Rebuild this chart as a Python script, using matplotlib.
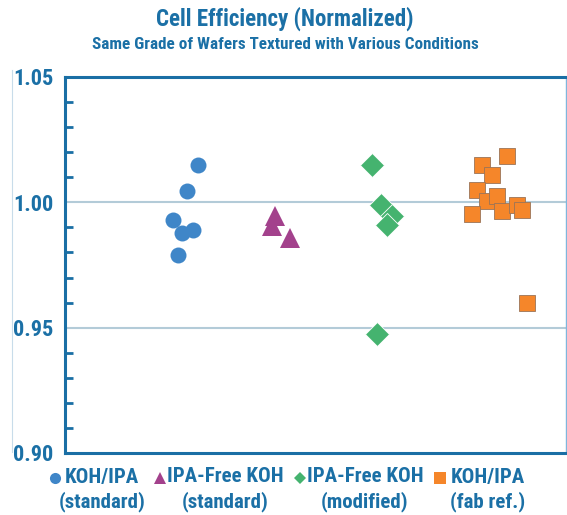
import matplotlib
matplotlib.use("Agg")
import matplotlib.pyplot as plt
from matplotlib.lines import Line2D
from matplotlib.ticker import MultipleLocator, FixedLocator

# ---- data ----
title = "Cell Efficiency (Normalized)"
subtitle = "Same Grade of Wafers Textured with Various Conditions"
yticks = [0.90, 0.95, 1.00, 1.05]
ytick_labels = ["0.90", "0.95", "1.00", "1.05"]

koh_ipa_std_x = [1.324, 1.218, 1.075, 1.165, 1.274, 1.125]
koh_ipa_std_y = [1.0150, 1.0047, 0.9931, 0.9878, 0.9889, 0.9789]

ipa_free_std_x = [2.096, 2.066, 2.246]
ipa_free_std_y = [0.9945, 0.9905, 0.9857]

ipa_free_mod_x = [3.064, 3.154, 3.260, 3.210, 3.110]
ipa_free_mod_y = [1.0147, 0.9991, 0.9947, 0.9911, 0.9476]

koh_ipa_fab_x = [4.408, 4.159, 4.259, 4.109, 4.209, 4.309, 4.059, 4.358, 4.508, 4.558, 4.608]
koh_ipa_fab_y = [1.0186, 1.0150, 1.0110, 1.0051, 1.0004, 1.0024, 0.9955, 0.9964, 0.9991, 0.9971, 0.9600]

legend_lines = [("KOH/IPA", "(standard)"),
                ("IPA-Free KOH", "(standard)"),
                ("IPA-Free KOH", "(modified)"),
                ("KOH/IPA", "(fab ref.)")]

# ---- style ----
TXT = "#1b70a6"
SPINE = "#1a6fa5"
GRID = "#b3cbd8"
C_BLUE = "#3f86c8"
C_PURP = "#a3418c"
C_GREEN = "#45b36f"
C_ORANGE = "#f5862a"
FONT = ["Roboto Condensed", "Roboto", "DejaVu Sans"]
plt.rcParams["font.family"] = FONT
plt.rcParams["font.weight"] = "bold"

fig = plt.figure(figsize=(5.67, 5.15), dpi=100)
ax = fig.add_axes([0.1146, 0.1204, 0.8834, 0.7301])

ax.set_xlim(0, 5)
ax.set_ylim(0.90, 1.05)

for yv in [0.95, 1.00]:
    ax.axhline(yv, color=GRID, lw=1.5, zorder=1)

ax.plot(koh_ipa_std_x, koh_ipa_std_y, "o", ms=11.5, color=C_BLUE, mec=C_BLUE, mew=0, zorder=3)
ax.plot(ipa_free_std_x, ipa_free_std_y, "^", ms=15, color=C_PURP, mec=C_PURP, mew=0, zorder=3)
ax.plot(ipa_free_mod_x, ipa_free_mod_y, "D", ms=12.5, color=C_GREEN, mec="white", mew=0.6, zorder=3)
ax.plot(koh_ipa_fab_x, koh_ipa_fab_y, "s", ms=11, color=C_ORANGE, mec="#9a7458", mew=0.6, zorder=3)

# spines
for side in ["left", "top", "bottom"]:
    ax.spines[side].set_color(SPINE)
    ax.spines[side].set_linewidth(2.2)
ax.spines["right"].set_color("#7fb6dd")
ax.spines["right"].set_linewidth(1.0)

ax.set_xticks([])
ax.yaxis.set_major_locator(FixedLocator(yticks))
ax.set_yticklabels(ytick_labels)
ax.yaxis.set_minor_locator(MultipleLocator(0.01))
ax.tick_params(axis="y", which="major", length=0, pad=8.5, labelsize=16, labelcolor=TXT)
ax.tick_params(axis="y", which="minor", direction="in", length=6, width=2, color=SPINE)
for lab in ax.get_yticklabels():
    lab.set_fontweight("bold")

# title
fig.text(0.502, 0.963, title, ha="center", va="center", fontsize=16.6, color=TXT, fontweight="bold")
fig.text(0.503, 0.913, subtitle, ha="center", va="center", fontsize=12.3, color=TXT, fontweight="bold")

# faint vertical line on far left
fig.add_artist(Line2D([12/567, 12/567], [1-70/515, 1-452/515], color="#c8dcea", lw=0.8))

# custom legend
marker_x = [55, 160, 300, 440]
text_cx = [102, 225, 365, 488]
markers = [("o", C_BLUE, 8), ("^", C_PURP, 9), ("D", C_GREEN, 6), ("s", C_ORANGE, 8)]
for (mk, col, ms), mx, tx, (l1, l2) in zip(markers, marker_x, text_cx, legend_lines):
    fig.add_artist(Line2D([mx/567], [1-478/515], marker=mk, color=col, ms=ms, mew=0, ls=""))
    fig.text(tx/567, 1-477/515, l1, ha="center", va="center", fontsize=15, color=TXT, fontweight="bold")
    fig.text(tx/567, 1-502/515, l2, ha="center", va="center", fontsize=15, color=TXT, fontweight="bold")

fig.savefig("out.png", dpi=100)
